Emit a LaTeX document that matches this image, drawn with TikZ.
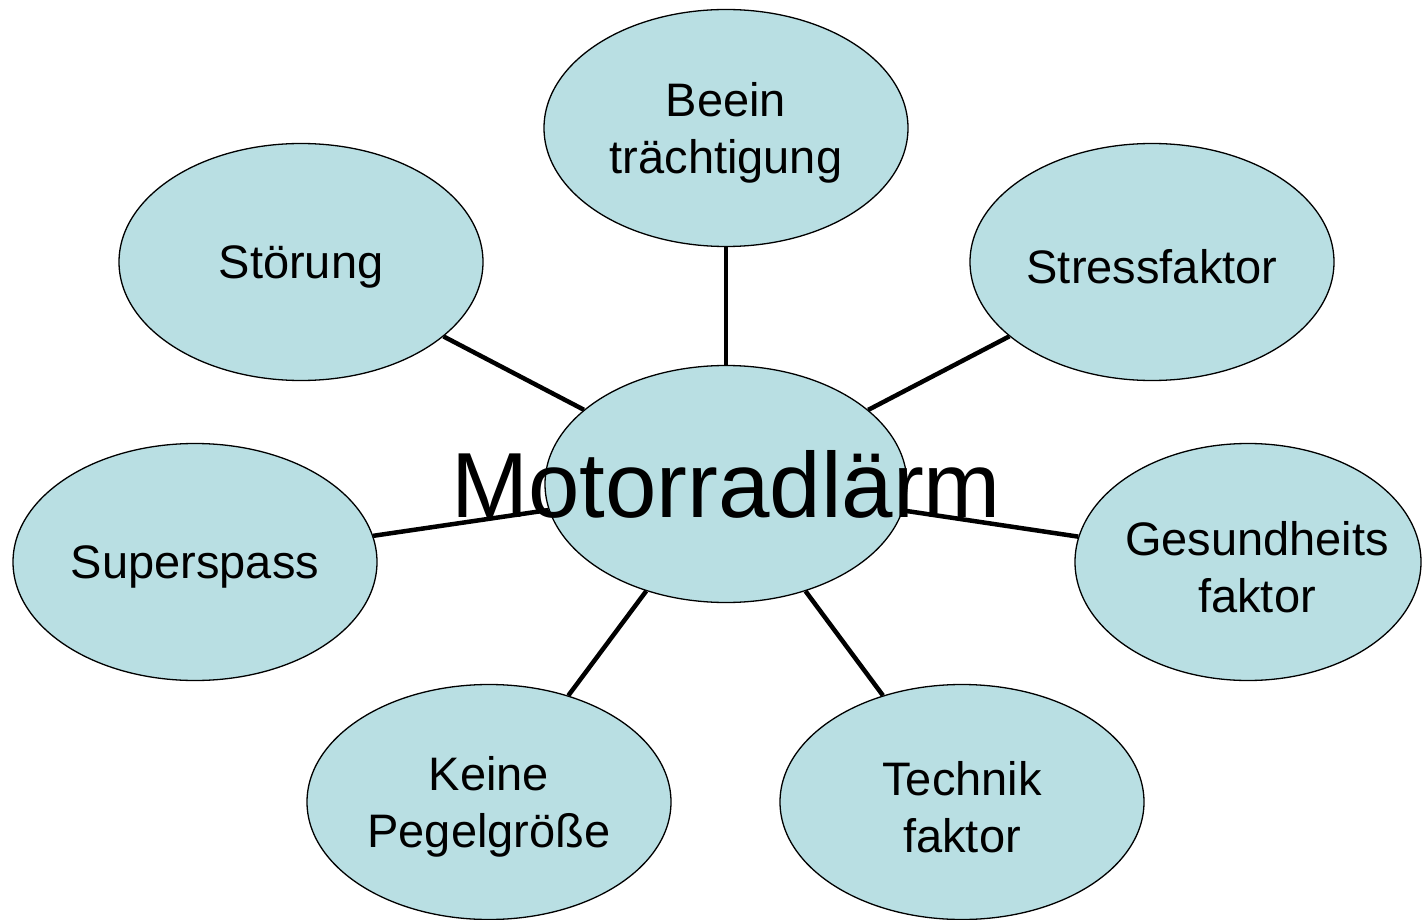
\documentclass[tikz,border=0pt]{standalone}
\usepackage{fontspec}
\setmainfont{Liberation Sans}
\usetikzlibrary{shapes.geometric,backgrounds}

\definecolor{bubble}{HTML}{B9DFE3}

\begin{document}
\begin{tikzpicture}[
    x=1pt, y=-1pt,
    topic/.style={ellipse, draw, line width=1.3pt, fill=bubble, inner sep=0pt,
      minimum width=364pt, minimum height=237pt,
      label={[topictext]center:{#1}}},
    topictext/.style={align=center, yshift=-5pt, font=\fontsize{47}{57}\selectfont},
    hubtext/.style={font=\fontsize{92.5}{110}\selectfont},
    link/.style={line width=4.5pt}
  ]
    \useasboundingbox (0,0) rectangle (1422,920);

    %--- Centre and the seven topics around it
    \node[topic={}, label={[hubtext]center:Motorradlärm}, minimum width=362pt] (laerm) at (726,484) {};
    \node[topic={Beein\\trächtigung}] (beein) at (726,128) {};
    \node[topic={Störung}] (stoerung) at (301,262) {};
    \node[topic={Stressfaktor}] (stress) at (1152,262) {};
    \node[topic={Superspass}] (spass) at (195,562) {};
    \node[ellipse, draw, line width=1.3pt, fill=bubble, inner sep=0pt,
      minimum width=346pt, minimum height=237pt,
      label={[topictext, xshift=9pt]center:{Gesundheits\\faktor}}] (gesund) at (1248,562) {};
    \node[topic={Keine\\Pegelgröße}, minimum height=235pt] (pegel) at (489,802) {};
    \node[topic={Technik\\faktor}, minimum height=235pt] (technik) at (962,802) {};

    %--- Spokes, kept behind the bubbles and the texts
    \begin{scope}[on background layer]
      \foreach \t in {beein,stoerung,stress,spass,gesund,pegel,technik}
        \draw[link] (laerm) -- (\t);
    \end{scope}
\end{tikzpicture}
\end{document}
